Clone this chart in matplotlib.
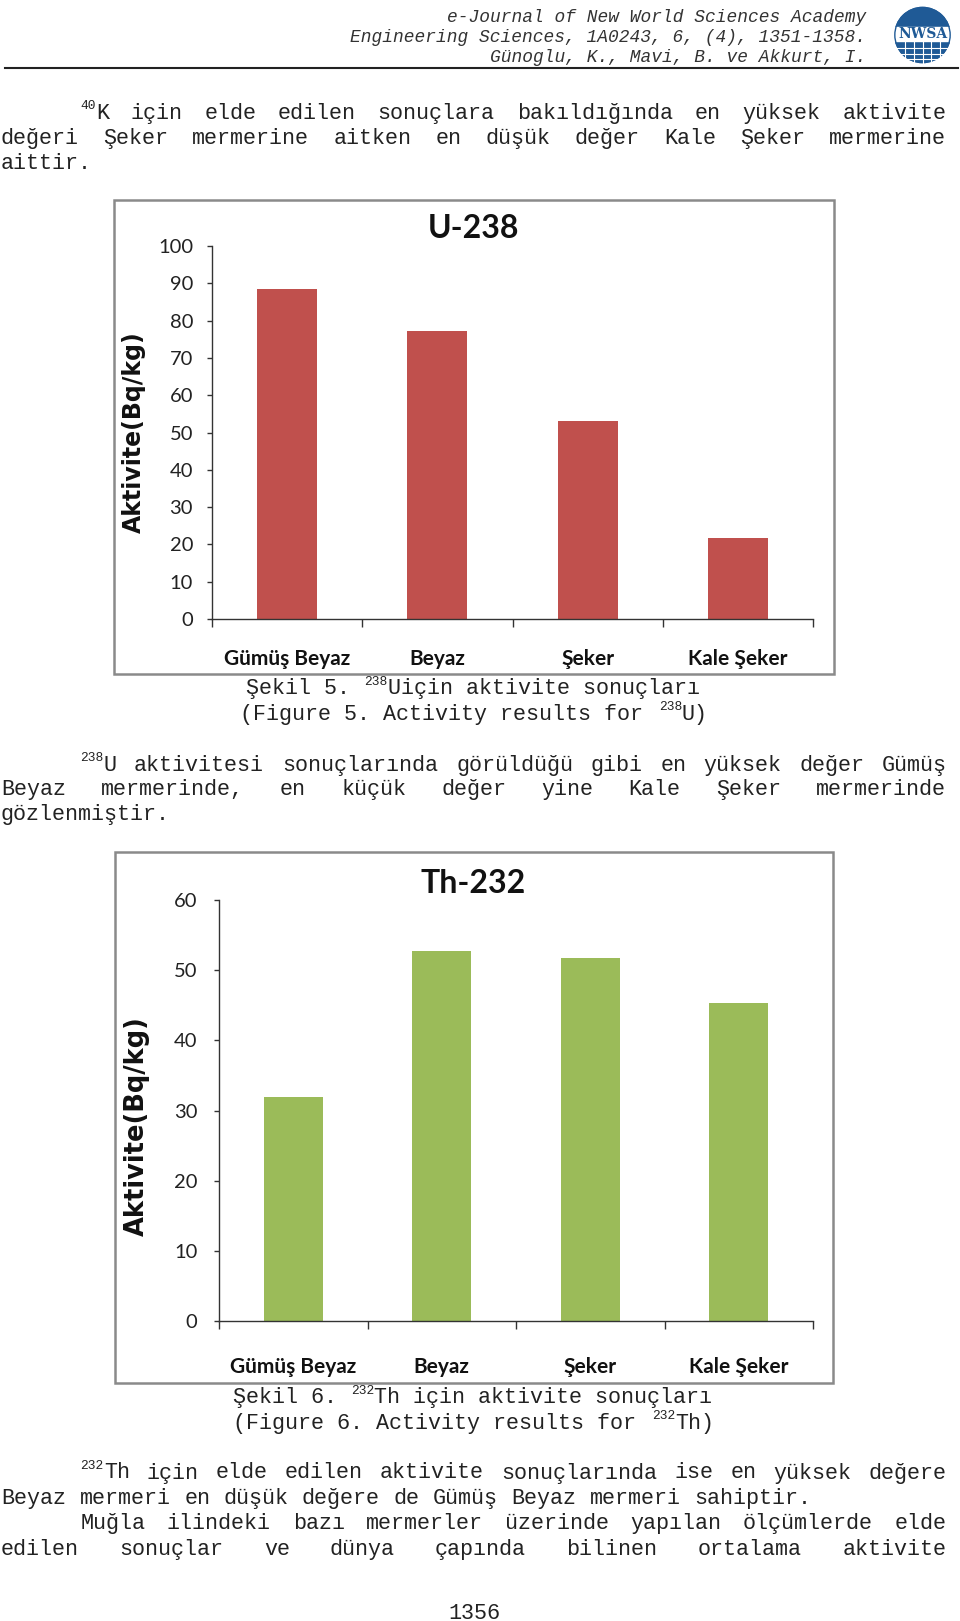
import matplotlib.pyplot as plt
from matplotlib.patches import Rectangle, Circle
from matplotlib.lines import Line2D

W, H = 960, 1621

# chart data
categories = ['Gümüş Beyaz', 'Beyaz', 'Şeker', 'Kale Şeker']
u238 = [88.5, 77.3, 53.2, 21.8]
th232 = [31.9, 52.7, 51.8, 45.3]
u_ticks = list(range(0, 101, 10))
th_ticks = list(range(0, 61, 10))

MONO = 'Liberation Mono'
TXT = '#222222'
BODY_FS = 15.7
CHARW = 0.6 * BODY_FS * 100 / 72
SUP_FS = 9.3
SUP_CHARW = 0.6 * SUP_FS * 100 / 72
DY = 2.5  # small vertical nudge for body text

fig = plt.figure(figsize=(9.6, 16.21), dpi=100)


def fx(x):
    return x / W


def fy(y):
    return 1 - y / H


def word_width(w):
    if isinstance(w, tuple):
        return len(w[0]) * SUP_CHARW + len(w[1]) * CHARW
    return len(w) * CHARW


def put_word(x, y, w):
    y += DY
    if isinstance(w, tuple):
        fig.text(fx(x), fy(y - 7), w[0], fontsize=SUP_FS, family=MONO,
                 ha='left', va='center', color=TXT)
        x += len(w[0]) * SUP_CHARW
        w = w[1]
    fig.text(fx(x), fy(y), w, fontsize=BODY_FS, family=MONO,
             ha='left', va='center', color=TXT)


def line(words, y, x0=1, x1=947, justify=True):
    if isinstance(words, str):
        words = words.split()
    widths = [word_width(w) for w in words]
    if justify and len(words) > 1:
        gap = (x1 - x0 - sum(widths)) / (len(words) - 1)
    else:
        gap = CHARW
    x = x0
    for w, wd in zip(words, widths):
        put_word(x, y, w)
        x += wd + gap


def centered(parts, y, xc=474):
    # parts: list of (text, is_sup)
    y += DY
    total = sum(len(t) * (SUP_CHARW if s else CHARW) for t, s in parts)
    x = xc - total / 2
    for t, s in parts:
        if s:
            fig.text(fx(x), fy(y - 7), t, fontsize=SUP_FS, family=MONO,
                     ha='left', va='center', color=TXT)
            x += len(t) * SUP_CHARW
        else:
            fig.text(fx(x), fy(y), t, fontsize=BODY_FS, family=MONO,
                     ha='left', va='center', color=TXT)
            x += len(t) * CHARW


# header
hdr = ['e-Journal of New World Sciences Academy',
       'Engineering Sciences, 1A0243, 6, (4), 1351-1358.',
       'Günoglu, K., Mavi, B. ve Akkurt, I.']
for t, y in zip(hdr, [17.5, 38, 57.5]):
    fig.text(fx(866), fy(y), t, fontsize=12.9, family=MONO, style='italic',
             ha='right', va='center', color='#333333')
fig.add_artist(Line2D([fx(5), fx(958)], [fy(67.5), fy(67.5)], transform=fig.transFigure,
                      color='#222222', lw=1.5))

# logo
lg = fig.add_axes([fx(889), fy(64), 67 / W, 58 / H])
lg.set_xlim(-1.15, 1.15)
lg.set_ylim(-1.0, 1.0)
lg.axis('off')
lg.add_patch(Circle((0, 0), 0.95, color='#1f5a96'))
lg.add_patch(Rectangle((-1.1, -0.22), 2.2, 0.5, color='white'))
for yy in [-0.45, -0.65, -0.82]:
    lg.plot([-1, 1], [yy, yy], color='white', lw=0.8)
for xx in [-0.6, -0.3, 0, 0.3, 0.6]:
    lg.plot([xx, xx], [-1, -0.25], color='white', lw=0.8)
lg.add_patch(Circle((0, 0), 0.95, fill=False, ec='#1f5a96', lw=1))
lg.text(0, 0.03, 'NWSA', ha='center', va='center', fontsize=10, fontweight='bold',
        family='DejaVu Serif', color='#1f5a96')

# paragraph 1
line([('40', 'K'), 'için', 'elde', 'edilen', 'sonuçlara', 'bakıldığında', 'en',
      'yüksek', 'aktivite'], 110.6, x0=80.6)
line('değeri Şeker mermerine aitken en düşük değer Kale Şeker mermerine', 136.4)
line('aittir.', 161.2, justify=False)


def chart(box, axpx, values, ticks, color, title, title_xy, ylab_xy, ylab_fs, pad_x, pad_y):
    x0, y0, x1, y1 = box
    fig.patches.append(Rectangle((fx(x0), fy(y1)), (x1 - x0) / W, (y1 - y0) / H,
                                 transform=fig.transFigure, fill=False,
                                 ec='#8a8a8a', lw=1.8))
    left, top, right, bottom = axpx
    ax = fig.add_axes([fx(left), fy(bottom), (right - left) / W, (bottom - top) / H])
    ax.bar(range(len(values)), values, width=0.4, color=color)
    ax.set_xlim(-0.5, len(values) - 0.5)
    ax.set_ylim(ticks[0], ticks[-1])
    ax.set_yticks(ticks)
    ax.set_yticklabels([str(t) for t in ticks], family='Lato', fontsize=14.5, color='#222222')
    ax.set_xticks([i - 0.5 for i in range(len(values) + 1)])
    ax.set_xticklabels([])
    ax.set_xticks(range(len(values)), minor=True)
    ax.set_xticklabels(categories, minor=True, family='Lato', fontweight='bold',
                       fontsize=15, color='#111111')
    ax.tick_params(axis='x', which='major', direction='out', length=6, width=1, color='#333333')
    ax.tick_params(axis='x', which='minor', length=0, pad=pad_x)
    ax.tick_params(axis='y', direction='out', length=3.6, width=1, color='#333333', pad=pad_y)
    for s in ['top', 'right']:
        ax.spines[s].set_visible(False)
    for s in ['left', 'bottom']:
        ax.spines[s].set_color('#333333')
        ax.spines[s].set_linewidth(1)
    fig.text(fx(title_xy[0]), fy(title_xy[1]), title, family='Lato', fontweight='bold',
             fontsize=23, ha='center', va='center', color='#111111')
    fig.text(fx(ylab_xy[0]), fy(ylab_xy[1]), 'Aktivite(Bq/kg)', family='DejaVu Sans',
             fontweight='bold', fontsize=ylab_fs, rotation=90, ha='center', va='center',
             color='#111111')
    return ax


chart((114, 200, 834, 674), (212, 246, 813, 619), u238, u_ticks, '#C0504D',
      'U-238', (473, 229), (134, 432), 17, 21.5, 10)

centered([('Şekil 5. ', False), ('238', True), ('Uiçin aktivite sonuçları', False)], 686.2)
centered([('(Figure 5. Activity results for ', False), ('238', True), ('U)', False)], 712)

# paragraph 2
line([('238', 'U'), 'aktivitesi', 'sonuçlarında', 'görüldüğü', 'gibi', 'en', 'yüksek',
      'değer', 'Gümüş'], 762.6, x0=80.6)
line('Beyaz mermerinde, en küçük değer yine Kale Şeker mermerinde', 787.4)
line('gözlenmiştir.', 812.2, justify=False)

chart((115, 852, 833, 1383), (219, 900, 813, 1321), th232, th_ticks, '#9BBB59',
      'Th-232', (473, 884), (137, 1126), 18.5, 26, 12)

centered([('Şekil 6. ', False), ('232', True), ('Th için aktivite sonuçları', False)], 1395.1)
centered([('(Figure 6. Activity results for ', False), ('232', True), ('Th)', False)], 1420.9)

# paragraph 3
line([('232', 'Th'), 'için', 'elde', 'edilen', 'aktivite', 'sonuçlarında', 'ise', 'en',
      'yüksek', 'değere'], 1470.5, x0=80.6)
line('Beyaz mermeri en düşük değere de Gümüş Beyaz mermeri sahiptir.', 1496.4, justify=False)
line('Muğla ilindeki bazı mermerler üzerinde yapılan ölçümlerde elde', 1521.1, x0=80.6)
line('edilen sonuçlar ve dünya çapında bilinen ortalama aktivite', 1547)

fig.text(fx(474), fy(1611 + DY), '1356', fontsize=BODY_FS, family=MONO, ha='center',
         va='center', color=TXT)

fig.savefig('out.png', dpi=100)
